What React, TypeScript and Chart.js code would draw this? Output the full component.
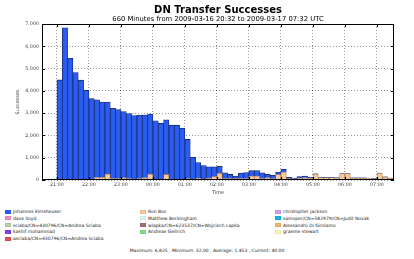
import React, { useEffect, useRef } from 'react';
import { Chart, registerables } from 'chart.js';

Chart.register(...registerables);

// ---- data ----
const binStarts = [
  '20:40', '20:50',
  '21:00', '21:10', '21:20', '21:30', '21:40', '21:50',
  '22:00', '22:10', '22:20', '22:30', '22:40', '22:50',
  '23:00', '23:10', '23:20', '23:30', '23:40', '23:50',
  '00:00', '00:10', '00:20', '00:30', '00:40', '00:50',
  '01:00', '01:10', '01:20', '01:30', '01:40', '01:50',
  '02:00', '02:10', '02:20', '02:30', '02:40', '02:50',
  '03:00', '03:10', '03:20', '03:30', '03:40', '03:50',
  '04:00', '04:10', '04:20', '04:30', '04:40', '04:50',
  '05:00', '05:10', '05:20', '05:30', '05:40', '05:50',
  '06:00', '06:10', '06:20', '06:30', '06:40', '06:50',
  '07:00', '07:10', '07:20',
];

const johannesElmsheuser = [
  0, 0,
  4490, 6825, 5460, 4820, 4480, 4020,
  3650, 3490, 3380, 3230, 3160, 3100,
  2970, 2920, 2850, 2850, 2810, 2690,
  2620, 2500, 2450, 2420, 2420, 2280,
  1760, 980, 700, 610, 510, 440,
  320, 260, 190, 120, 250, 270,
  240, 240, 260, 160, 150, 120,
  120, 60, 40, 70, 80, 30,
  10, 10, 10, 10, 10, 10,
  10, 10, 10, 10, 0, 10,
  10, 10, 10,
];

const ronBos = [
  0, 0,
  0, 0, 0, 0, 0, 0,
  0, 110, 120, 270, 60, 60,
  100, 60, 40, 60, 100, 270,
  40, 40, 250, 40, 40, 40,
  60, 40, 80, 40, 80, 150,
  300, 60, 60, 60, 60, 60,
  180, 180, 60, 100, 60, 240,
  360, 60, 50, 80, 100, 90,
  270, 110, 110, 110, 100, 290,
  290, 90, 90, 90, 90, 50,
  300, 130, 80,
];

const kashifMohammad = [
  32, 0,
  0, 0, 0, 0, 0, 0,
  0, 0, 0, 0, 0, 0,
  0, 0, 0, 0, 0, 0,
  0, 0, 0, 0, 0, 0,
  0, 0, 0, 0, 0, 0,
  0, 0, 0, 0, 0, 0,
  0, 0, 0, 0, 0, 0,
  0, 0, 0, 0, 0, 0,
  0, 0, 0, 0, 0, 0,
  0, 0, 0, 0, 0, 0,
  0, 0, 0,
];

const tickTimes = ['21:00', '22:00', '23:00', '00:00', '01:00', '02:00', '03:00', '04:00', '05:00', '06:00', '07:00'];

const windowStart = '20:32';
const windowMinutes = 660;
const binMinutes = 10;
const yMax = 7000;
const yStep = 1000;

const titleText = 'DN Transfer Successes';
const subtitleText = '660 Minutes from 2009-03-16 20:32 to 2009-03-17 07:32 UTC';
const footerText = 'Maximum: 6,825 , Minimum: 32.00 , Average: 1,453 , Current: 40.00';

const legendColumns: { name: string; color: string }[][] = [
  [
    { name: 'Johannes Elmsheuser', color: '#2b5cf0' },
    { name: 'dave lloyd', color: '#f08cc0' },
    { name: 'sciaba/CN=430796/CN=Andrea Sciaba', color: '#b8d0a4' },
    { name: 'kashif mohammad', color: '#8040f8' },
    { name: 'asciaba/CN=430796/CN=Andrea Sciaba', color: '#e8505c' },
  ],
  [
    { name: 'Ron Bos', color: '#fcc89a' },
    { name: 'Matthew Beckingham', color: '#d8f6f6' },
    { name: 'wlapka/CN=623537/CN=Wojciech Lapka', color: '#a07078' },
    { name: 'Andreas Gellrich', color: '#80e088' },
  ],
  [
    { name: 'christopher jackson', color: '#cca0f0' },
    { name: 'samoper/CN=582979/CN=Judit Novak', color: '#10b4e8' },
    { name: 'Alessandro Di Girolamo', color: '#f4b468' },
    { name: 'graeme stewart', color: '#fff8b0' },
  ],
];

// ---- helpers ----
function toMinutes(t: string) {
  const [h, m] = t.split(':').map(Number);
  return h * 60 + m;
}
const startMin = toMinutes(windowStart);
function offsetOf(t: string) {
  return (toMinutes(t) - startMin + 1440) % 1440;
}
function labelOf(v: number) {
  const total = (startMin + v) % 1440;
  const h = Math.floor(total / 60);
  const m = total % 60;
  return String(h).padStart(2, '0') + ':' + String(m).padStart(2, '0');
}
function series(values: number[]) {
  return values.map((v, i) => ({ x: offsetOf(binStarts[i]) + binMinutes / 2, y: v }));
}

const FONT = "'DejaVu Sans', sans-serif";

const titlePlugin = {
  id: 'centeredTitles',
  afterDraw(chart: any) {
    const { ctx, chartArea } = chart;
    const cx = (chartArea.left + chartArea.right) / 2;
    ctx.save();
    ctx.fillStyle = '#000';
    ctx.textAlign = 'center';
    ctx.textBaseline = 'middle';
    ctx.font = `bold 10px ${FONT}`;
    ctx.fillText(titleText, cx, 10.5);
    ctx.font = `6.8px ${FONT}`;
    ctx.fillText(subtitleText, cx, 19.5);
    ctx.restore();
  },
};

const framePlugin = {
  id: 'frame',
  afterDatasetsDraw(chart: any) {
    const { ctx, chartArea, scales } = chart;
    const { left, right, top, bottom } = chartArea;
    ctx.save();
    ctx.setLineDash([]);
    ctx.strokeStyle = '#000';
    ctx.lineWidth = 1;
    ctx.strokeRect(left + 0.5, top + 0.5, right - left - 1, bottom - top - 1);
    const tl = 3;
    ctx.lineWidth = 1.2;
    ctx.beginPath();
    scales.x.ticks.forEach((t: any) => {
      const px = Math.round(scales.x.getPixelForValue(t.value)) + 0.5;
      ctx.moveTo(px, top);
      ctx.lineTo(px, top + tl);
      ctx.moveTo(px, bottom);
      ctx.lineTo(px, bottom - tl);
    });
    scales.y.ticks.forEach((t: any) => {
      const py = Math.round(scales.y.getPixelForValue(t.value)) + 0.5;
      ctx.moveTo(left, py);
      ctx.lineTo(left + tl, py);
      ctx.moveTo(right, py);
      ctx.lineTo(right - tl, py);
    });
    ctx.stroke();
    ctx.restore();
  },
};

export default function App() {
  const canvasRef = useRef<HTMLCanvasElement | null>(null);

  useEffect(() => {
    if (!canvasRef.current) return;
    const chart = new Chart(canvasRef.current, {
      type: 'bar',
      data: {
        datasets: [
          {
            label: 'kashif mohammad',
            data: series(kashifMohammad),
            backgroundColor: '#8040f8',
            borderColor: '#3a2a60',
            borderWidth: 0.8,
          },
          {
            label: 'Ron Bos',
            data: series(ronBos),
            backgroundColor: '#fcc89a',
            borderColor: '#9a7a5a',
            borderWidth: 0.8,
          },
          {
            label: 'Johannes Elmsheuser',
            data: series(johannesElmsheuser),
            backgroundColor: '#2b5cf0',
            borderColor: '#18286a',
            borderWidth: 0.8,
          },
        ] as any,
      },
      options: {
        animation: false,
        responsive: false,
        maintainAspectRatio: false,
        layout: { padding: { left: 0, right: 20, top: 24, bottom: 0 } },
        datasets: { bar: { barPercentage: 1, categoryPercentage: 1 } } as any,
        plugins: {
          legend: { display: false },
          tooltip: { enabled: false },
          title: { display: false },
          subtitle: { display: false },
        },
        scales: {
          x: {
            type: 'linear',
            stacked: true,
            offset: false,
            min: 0,
            max: windowMinutes,
            afterBuildTicks: (scale: any) => {
              scale.ticks = tickTimes.map((t) => ({ value: offsetOf(t) }));
            },
            afterFit: (scale: any) => {
              scale.height = 20;
            },
            ticks: {
              autoSkip: false,
              maxRotation: 0,
              padding: 2,
              color: '#444',
              font: { family: FONT, size: 4.8 },
              callback: (v: any) => labelOf(Number(v)),
            },
            grid: {
              offset: false,
              drawTicks: false,
              color: 'rgba(0,0,0,0.4)',
              lineWidth: 1,
            },
            border: { display: false, dash: [1, 2] },
            title: {
              display: true,
              text: 'Time',
              color: '#444',
              font: { family: FONT, size: 5 },
              padding: { top: 0, bottom: 4 },
            },
          },
          y: {
            stacked: true,
            min: 0,
            max: yMax,
            afterFit: (scale: any) => {
              scale.width = 42;
            },
            ticks: {
              stepSize: yStep,
              padding: 3,
              color: '#444',
              font: { family: FONT, size: 4.8 },
              callback: (v: any) => Number(v).toLocaleString('en-US'),
            },
            grid: {
              drawTicks: false,
              color: 'rgba(0,0,0,0.4)',
              lineWidth: 1,
            },
            border: { display: false, dash: [1, 2] },
            title: {
              display: true,
              text: 'Successes',
              color: '#444',
              font: { family: FONT, size: 4.8 },
              padding: { top: 15, bottom: 0 },
            },
          },
        },
      } as any,
      plugins: [framePlugin, titlePlugin],
    });
    return () => chart.destroy();
  }, []);

  const colX = [5, 140, 275];
  const rowY0 = 209;
  const rowH = 6.8;

  return (
    <div style={{ position: 'absolute', left: 0, top: 0, width: 414, height: 259, background: '#fff', overflow: 'hidden' }}>
      <canvas ref={canvasRef} width={414} height={200} style={{ position: 'absolute', left: 0, top: 0, width: 414, height: 200 }} />
      {legendColumns.map((col, ci) =>
        col.map((item, ri) => (
          <div
            key={ci + '-' + ri}
            style={{
              position: 'absolute',
              left: colX[ci],
              top: rowY0 + ri * rowH,
              height: 5,
              display: 'flex',
              alignItems: 'center',
              whiteSpace: 'nowrap',
              fontFamily: FONT,
              fontSize: 4.5,
              lineHeight: '5px',
              color: '#222',
            }}
          >
            <span style={{ display: 'inline-block', width: 6, height: 4, background: item.color, marginRight: 2, boxShadow: 'inset 0 0 0 0.5px rgba(0,0,0,0.12)' }} />
            <span>{item.name}</span>
          </div>
        ))
      )}
      <div
        style={{
          position: 'absolute',
          left: 0,
          width: 414,
          top: 248,
          textAlign: 'center',
          fontFamily: FONT,
          fontSize: 4.5,
          lineHeight: '6px',
          color: '#222',
        }}
      >
        {footerText}
      </div>
    </div>
  );
}
